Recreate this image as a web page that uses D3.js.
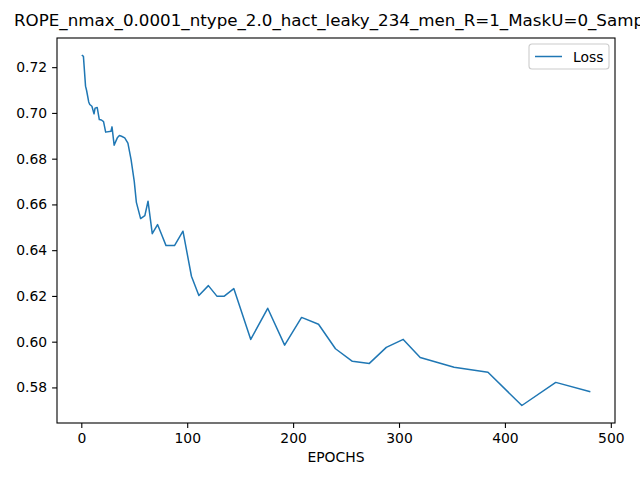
<!DOCTYPE html>
<html><head><meta charset="utf-8">
<script src="https://cdn.jsdelivr.net/npm/d3@7"></script>
<style>
body{margin:0;background:#fff;}
text{font-family:"DejaVu Sans",sans-serif;}
</style></head><body>
<svg id="chart" width="640" height="480"></svg>
<script>
const epochs = [1,2,4,5,7,8,10,12,13,15,17,19,21,23,28,29,31,34,36,38,41,44,47,50,52,56,60,63,67,72,76,80,88,96,104,111,120,128,135,144,160,176,192,208,224,240,256,272,288,304,320,352,384,416,448,480];
const loss = [0.7251,0.7247,0.7117,0.7098,0.7048,0.7037,0.7029,0.6996,0.7021,0.7024,0.6971,0.6969,0.6962,0.6916,0.6920,0.6939,0.6859,0.6891,0.6901,0.6898,0.6891,0.6868,0.6796,0.6701,0.6609,0.6538,0.6551,0.6614,0.6472,0.6512,0.6466,0.6420,0.6420,0.6483,0.6286,0.6202,0.6245,0.6199,0.6199,0.6232,0.6010,0.6146,0.5985,0.6106,0.6076,0.5969,0.5914,0.5905,0.5975,0.6010,0.5931,0.5888,0.5866,0.5721,0.5822,0.5782];
const xTicks = [0,100,200,300,400,500];
const yTicks = [0.58,0.60,0.62,0.64,0.66,0.68,0.70,0.72];
const title = 'ROPE_nmax_0.0001_ntype_2.0_hact_leaky_234_men_R=1_MaskU=0_Samp=';

const svg = d3.select('#chart');
const m = { left: 57, right: 615, top: 38, bottom: 423 };
const color = '#1f77b4';

const xr = d3.extent(epochs), yr = d3.extent(loss);
const xp = (xr[1] - xr[0]) * 0.05, yp = (yr[1] - yr[0]) * 0.05;
const x = d3.scaleLinear().domain([xr[0] - xp, xr[1] + xp]).range([m.left, m.right]);
const y = d3.scaleLinear().domain([yr[0] - yp, yr[1] + yp]).range([m.bottom, m.top]);

svg.append('path')
	.datum(epochs.map((e, i) => [e, loss[i]]))
	.attr('d', d3.line().x(d => x(d[0])).y(d => y(d[1])))
	.attr('fill', 'none').attr('stroke', color).attr('stroke-width', 1.5)
	.attr('stroke-linejoin', 'round').attr('stroke-linecap', 'square');

const xAxis = svg.append('g').attr('transform', `translate(0,${m.bottom})`)
	.call(d3.axisBottom(x).tickValues(xTicks).tickSize(4.9).tickPadding(4.9).tickFormat(d3.format('d')));
const yAxis = svg.append('g').attr('transform', `translate(${m.left},0)`)
	.call(d3.axisLeft(y).tickValues(yTicks).tickSize(4.9).tickPadding(4.9).tickFormat(d3.format('.2f')));
[xAxis, yAxis].forEach(a => {
	a.select('.domain').remove();
	a.selectAll('text').attr('font-size', 13.9).attr('fill', '#000').attr('font-family', 'DejaVu Sans');
	a.selectAll('line').attr('stroke', '#000').attr('stroke-width', 1.1);
});

svg.append('rect')
	.attr('x', m.left).attr('y', m.top)
	.attr('width', m.right - m.left).attr('height', m.bottom - m.top)
	.attr('fill', 'none').attr('stroke', '#000').attr('stroke-width', 1.1);

svg.append('text').text('EPOCHS')
	.attr('x', (m.left + m.right) / 2).attr('y', 462)
	.attr('text-anchor', 'middle').attr('font-size', 13.9);

svg.append('text').text(title)
	.attr('x', (m.left + m.right) / 2).attr('y', 26)
	.attr('text-anchor', 'middle').attr('font-size', 16.7);

// legend
const lg = svg.append('g').attr('transform', `translate(529,44)`);
lg.append('rect').attr('width', 80).attr('height', 25).attr('rx', 3)
	.attr('fill', '#fff').attr('fill-opacity', 0.8).attr('stroke', '#ccc').attr('stroke-width', 1.1);
lg.append('line').attr('x1', 6).attr('x2', 33).attr('y1', 12.5).attr('y2', 12.5)
	.attr('stroke', color).attr('stroke-width', 1.5);
lg.append('text').text('Loss').attr('x', 44).attr('y', 17.5).attr('font-size', 13.9);
</script>
</body></html>
